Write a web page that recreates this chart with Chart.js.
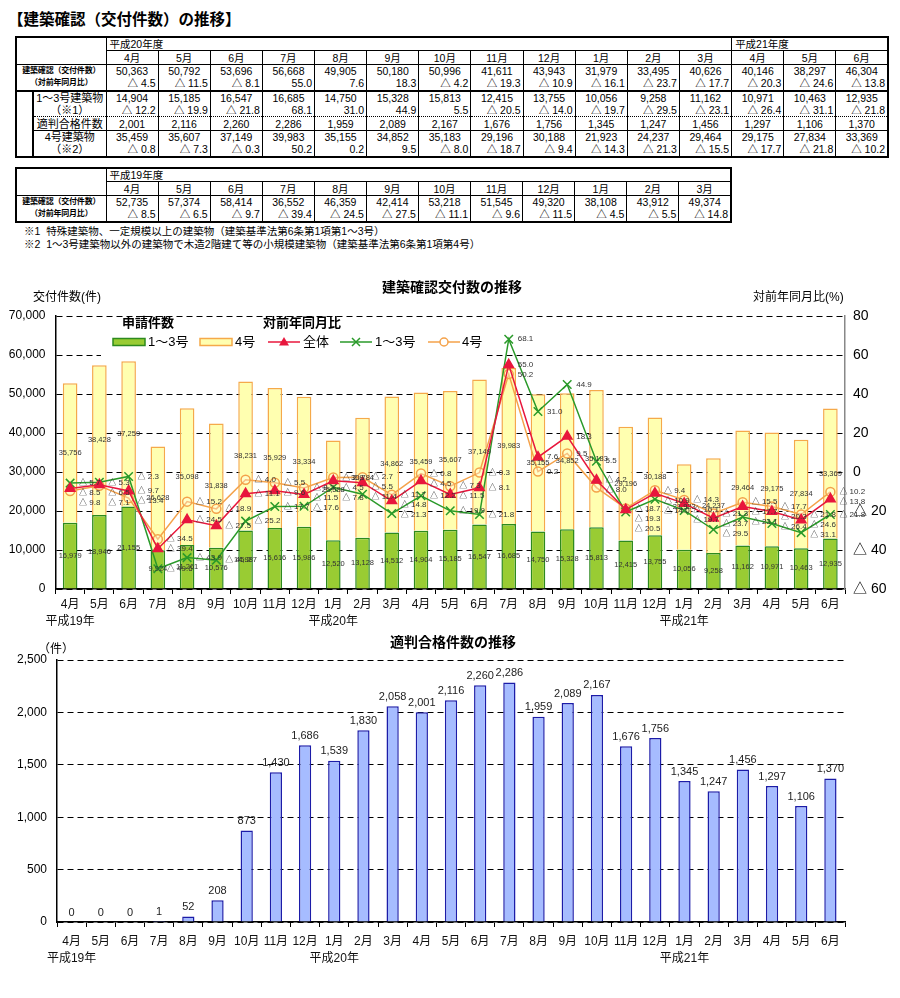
<!DOCTYPE html>
<html><head><meta charset="utf-8">
<script src="https://cdn.jsdelivr.net/npm/chart.js@4.4.0/dist/chart.umd.min.js"></script>
<style>
body{margin:0;background:#fff;font-family:"Liberation Sans","Noto Sans CJK JP",sans-serif;color:#000;}
#wrap{position:relative;width:900px;height:998px;overflow:hidden;background:#fff;}
.abs{position:absolute;white-space:nowrap;z-index:5;}
table{border-collapse:collapse;table-layout:fixed;position:absolute;font-size:10.5px;}
td{padding:0;height:12.4px;line-height:12px;border-left:1px solid #000;border-right:1px solid #000;border-top:none;border-bottom:none;text-align:center;overflow:hidden;white-space:nowrap;}
td.l{text-align:left;padding-left:3px;}
td.r{text-align:right;padding-right:2px;}
td.lab8{font-size:8px;font-weight:bold;letter-spacing:-0.2px;}
td.lab{font-size:11px;}
tr.b1 td{border-bottom:1px solid #000;}
tr.b2 td{border-bottom:2px solid #000;}
tr.bd td{border-bottom:1px dotted #000;}
td.nb{border-bottom:none !important;border-top:none !important;}
canvas{position:absolute;left:0;}
</style></head>
<body><div id="wrap">
<div class="abs" style="left:8px;top:7px;font-size:15.5px;font-weight:bold;">【建築確認（交付件数）の推移】</div>
<table id="t1" style="left:15px;top:36px;width:872px;border:2px solid #000;"></table>
<table id="t2" style="left:15px;top:167px;width:715px;border:2px solid #000;"></table>
<div class="abs" style="left:24px;top:223px;font-size:10.5px;">※1&nbsp;&nbsp;特殊建築物、一定規模以上の建築物（建築基準法第6条第1項第1～3号）</div>
<div class="abs" style="left:24px;top:236px;font-size:10.5px;">※2&nbsp;&nbsp;1～3号建築物以外の建築物で木造2階建て等の小規模建築物（建築基準法第6条第1項第4号）</div>

<div class="abs" style="left:0;width:904px;text-align:center;top:276px;font-size:14px;font-weight:bold;">建築確認交付数の推移</div>
<div class="abs" style="left:33px;top:287px;font-size:12px;">交付件数(件)</div>
<div class="abs" style="left:753px;top:287px;font-size:12px;">対前年同月比(%)</div>
<canvas id="c1" width="900" height="365" style="top:268px;"></canvas>

<div class="abs" style="left:0;width:906px;text-align:center;top:631px;font-size:14px;font-weight:bold;">適判合格件数の推移</div>
<div class="abs" style="left:38px;top:639px;font-size:12px;">（件）</div>
<canvas id="c2" width="900" height="336" style="top:632px;"></canvas>
</div>
<script>
// ---------- data ----------
const monthsH19 = ['4月','5月','6月','7月','8月','9月','10月','11月','12月','1月','2月','3月'];
const monthsH20 = ['4月','5月','6月','7月','8月','9月','10月','11月','12月','1月','2月','3月','4月','5月','6月'];
const yearMarks = {0:'平成19年', 9:'平成20年', 21:'平成21年'};

const h19Total    = [52735,57374,58414,36552,46359,42414,53218,51545,49320,38108,43912,49374];
const h19TotalYoy = [-8.5,-6.5,-9.7,-39.4,-24.5,-27.5,-11.1,-9.6,-11.5,-4.5,-5.5,-14.8];
const h19Cat13    = [16979,18946,21155,9924,11261,10576,14987,15616,15986,12520,13128,14512];
const h19Cat13Yoy = [-5.7,-5.3,-2.3,-49.6,-43.9,-45.2,-25.2,-17.7,-17.6,-7.8,-11.4,-21.3];
const h19Cat4     = [35756,38428,37259,26628,35098,31838,38231,35929,33334,25588,30784,34862];
const h19Cat4Yoy  = [-9.8,-7.1,-13.4,-34.5,-15.2,-18.9,-4.0,-5.5,-8.2,-2.8,-2.7,-11.7];
const h19Tekihan  = [0,0,0,1,52,208,873,1430,1686,1539,1830,2058];

const h20Total    = [50363,50792,53696,56668,49905,50180,50996,41611,43943,31979,33495,40626,40146,38297,46304];
const h20TotalYoy = [-4.5,-11.5,-8.1,55.0,7.6,18.3,-4.2,-19.3,-10.9,-16.1,-23.7,-17.7,-20.3,-24.6,-13.8];
const h20Cat13    = [14904,15185,16547,16685,14750,15328,15813,12415,13755,10056,9258,11162,10971,10463,12935];
const h20Cat13Yoy = [-12.2,-19.9,-21.8,68.1,31.0,44.9,5.5,-20.5,-14.0,-19.7,-29.5,-23.1,-26.4,-31.1,-21.8];
const h20Tekihan  = [2001,2116,2260,2286,1959,2089,2167,1676,1756,1345,1247,1456,1297,1106,1370];
const h20Cat4     = [35459,35607,37149,39983,35155,34852,35183,29196,30188,21923,24237,29464,29175,27834,33369];
const h20Cat4Yoy  = [-0.8,-7.3,-0.3,50.2,0.2,9.5,-8.0,-18.7,-9.4,-14.3,-21.3,-15.5,-17.7,-21.8,-10.2];

const yoyTicks = [-60,-40,-20,0,20,40,60,80];

// ---------- helpers ----------
const fmtN = v => v.toLocaleString('en-US');
const fmtR = v => v < 0 ? '△ ' + Math.abs(v).toFixed(1) : v.toFixed(1);

// ---------- tables ----------
function cells(arr, f, cls){ return arr.map(v => `<td${cls?` class="${cls}"`:''}>${f(v)}</td>`).join(''); }
const colsT1 = '<colgroup><col style="width:17px"><col style="width:73px">' + monthsH20.map(()=>'<col style="width:52.13px">').join('') + '</colgroup>';
document.getElementById('t1').innerHTML = colsT1 +
 `<tr class="b1"><td colspan="2" rowspan="2" style="border-bottom:1px solid #000"></td><td colspan="12" class="l">平成20年度</td><td colspan="3" class="l">平成21年度</td></tr>` +
 `<tr class="b1">${cells(monthsH20, v=>v)}</tr>` +
 `<tr><td colspan="2" class="lab8">建築確認（交付件数）</td>${cells(h20Total, fmtN)}</tr>` +
 `<tr class="b2"><td colspan="2" class="lab8">（対前年同月比）</td>${cells(h20TotalYoy, fmtR, 'r')}</tr>` +
 `<tr><td rowspan="5" class="nb" style="border-right:2px solid #000"></td><td class="lab">1～3号建築物</td>${cells(h20Cat13, fmtN)}</tr>` +
 `<tr class="bd"><td class="lab">（※1）</td>${cells(h20Cat13Yoy, fmtR, 'r')}</tr>` +
 `<tr class="b1"><td class="lab">適判合格件数</td>${cells(h20Tekihan, fmtN)}</tr>` +
 `<tr><td class="lab">4号建築物</td>${cells(h20Cat4, fmtN)}</tr>` +
 `<tr><td class="lab">（※2）</td>${cells(h20Cat4Yoy, fmtR, 'r')}</tr>`;

const colsT2 = '<colgroup><col style="width:90px">' + monthsH19.map(()=>'<col style="width:52.08px">').join('') + '</colgroup>';
document.getElementById('t2').innerHTML = colsT2 +
 `<tr class="b1"><td rowspan="2" style="border-bottom:1px solid #000"></td><td colspan="12" class="l">平成19年度</td></tr>` +
 `<tr class="b1">${cells(monthsH19, v=>v)}</tr>` +
 `<tr><td class="lab8">建築確認（交付件数）</td>${cells(h19Total, fmtN)}</tr>` +
 `<tr><td class="lab8">（対前年同月比）</td>${cells(h19TotalYoy, fmtR, 'r')}</tr>`;

// ---------- chart data ----------
const chartMonths = monthsH19.concat(monthsH20);
const xLabels = chartMonths.map((m,i) => yearMarks[i] ? [m, yearMarks[i]] : m);
const cat13 = h19Cat13.concat(h20Cat13);
const cat4 = h19Cat4.concat(h20Cat4);
const totalYoy = h19TotalYoy.concat(h20TotalYoy);
const cat13Yoy = h19Cat13Yoy.concat(h20Cat13Yoy);
const cat4Yoy = h19Cat4Yoy.concat(h20Cat4Yoy);
const tekihan = h19Tekihan.concat(h20Tekihan);

Chart.defaults.font.family = '"Liberation Sans","Noto Sans CJK JP",sans-serif';
Chart.defaults.color = '#000';

const C_RED='#e8173d', C_GRN='#2a9a2a', C_ORG='#f4a24a';
const BAR_G='#99cc33', BAR_GB='#2d8a1e', BAR_Y='#ffffb0', BAR_YB='#f5a94a';

const plugin1 = {
  id:'p1',
  beforeDatasetsDraw(chart){
    const ctx = chart.ctx;
    ctx.save();
    ctx.fillStyle = '#fff';
    ctx.fillRect(101, 50, 386, 40);
    ctx.fillStyle = '#000';
    ctx.font = 'bold 13px "Liberation Sans","Noto Sans CJK JP",sans-serif';
    ctx.textAlign = 'center'; ctx.textBaseline = 'middle';
    ctx.fillText('申請件数', 148, 55);
    ctx.fillText('対前年同月比', 302, 55);
    ctx.font = '13px "Liberation Sans","Noto Sans CJK JP",sans-serif';
    ctx.textAlign = 'left';
    const ry = 74;
    ctx.lineWidth = 1.5;
    ctx.fillStyle = BAR_G; ctx.strokeStyle = BAR_GB;
    ctx.fillRect(113, ry-3.5, 32, 7); ctx.strokeRect(113, ry-3.5, 32, 7);
    ctx.fillStyle = BAR_Y; ctx.strokeStyle = BAR_YB;
    ctx.fillRect(200, ry-3.5, 32, 7); ctx.strokeRect(200, ry-3.5, 32, 7);
    ctx.fillStyle = '#000';
    ctx.fillText('1～3号', 148, ry); ctx.fillText('4号', 235, ry);
    ctx.fillText('全体', 303, ry); ctx.fillText('1～3号', 375, ry); ctx.fillText('4号', 462, ry);
    ctx.strokeStyle = C_RED; ctx.beginPath(); ctx.moveTo(268, ry); ctx.lineTo(300, ry); ctx.stroke();
    ctx.fillStyle = C_RED; ctx.beginPath(); ctx.moveTo(284, ry-5); ctx.lineTo(289, ry+3.5); ctx.lineTo(279, ry+3.5); ctx.closePath(); ctx.fill();
    ctx.strokeStyle = C_GRN; ctx.beginPath(); ctx.moveTo(340, ry); ctx.lineTo(372, ry); ctx.stroke();
    ctx.beginPath(); ctx.moveTo(352, ry-4); ctx.lineTo(360, ry+4); ctx.moveTo(360, ry-4); ctx.lineTo(352, ry+4); ctx.stroke();
    ctx.strokeStyle = C_ORG; ctx.beginPath(); ctx.moveTo(428, ry); ctx.lineTo(460, ry); ctx.stroke();
    ctx.fillStyle = '#fff'; ctx.beginPath(); ctx.arc(444, ry, 4, 0, Math.PI*2); ctx.fill(); ctx.stroke();
    ctx.restore();
  },
  afterDatasetsDraw(chart){
    const ctx = chart.ctx;
    ctx.save();
    ctx.fillStyle = '#333';
    ctx.textAlign = 'center'; ctx.textBaseline = 'middle';
    ctx.font = '7.5px "Liberation Sans",sans-serif';
    [3,4].forEach(di => {
      const meta = chart.getDatasetMeta(di);
      meta.data.forEach((el, i) => {
        const v = chart.data.datasets[di].data[i];
        ctx.fillText(fmtN(v), el.x, (el.y + el.base)/2);
      });
    });
    ctx.font = '8px "Liberation Sans","Noto Sans CJK JP",sans-serif';
    ctx.textAlign = 'left';
    const n = chart.data.labels.length;
    for (let i = 0; i < n; i++) {
      const items = [0,1,2].map(di => {
        const el = chart.getDatasetMeta(di).data[i];
        return {x: el.x, y: el.y, t: fmtR(chart.data.datasets[di].data[i])};
      }).sort((a,b) => a.y - b.y);
      for (let k = 1; k < items.length; k++) {
        if (items[k].y < items[k-1].y + 10) items[k].y = items[k-1].y + 10;
      }
      items.forEach(it => ctx.fillText(it.t, it.x + 9, it.y));
    }
    ctx.restore();
  }
};

new Chart(document.getElementById('c1'), {
  type:'bar',
  data:{ labels:xLabels, datasets:[
    {type:'line', label:'全体', data:totalYoy, yAxisID:'y1', borderColor:C_RED, backgroundColor:C_RED, borderWidth:1.5,
      pointStyle:'triangle', pointRadius:5.5, pointBackgroundColor:C_RED, pointBorderColor:C_RED, order:1},
    {type:'line', label:'1～3号', data:cat13Yoy, yAxisID:'y1', borderColor:C_GRN, backgroundColor:C_GRN, borderWidth:1.5,
      pointStyle:'crossRot', pointRadius:6, pointBorderWidth:1.5, pointBorderColor:C_GRN, order:2},
    {type:'line', label:'4号', data:cat4Yoy, yAxisID:'y1', borderColor:C_ORG, backgroundColor:'rgba(0,0,0,0)', borderWidth:1.5,
      pointStyle:'circle', pointRadius:4.5, pointBorderWidth:1.5, pointBorderColor:C_ORG, pointBackgroundColor:'rgba(255,255,255,0.3)', order:3},
    {type:'bar', label:'1～3号', data:cat13, yAxisID:'y', stack:'s', backgroundColor:BAR_G, borderColor:BAR_GB, borderWidth:1.5,
      barPercentage:0.5, categoryPercentage:1, order:4},
    {type:'bar', label:'4号', data:cat4, yAxisID:'y', stack:'s', backgroundColor:BAR_Y, borderColor:BAR_YB, borderWidth:1.5,
      barPercentage:0.5, categoryPercentage:1, order:5}
  ]},
  options:{
    responsive:false, animation:false, devicePixelRatio:1,
    layout:{padding:{top:48,left:0,right:0,bottom:0}},
    plugins:{legend:{display:false}, tooltip:{enabled:false}},
    scales:{
      x:{stacked:true, afterFit(s){s.height=44;},
        grid:{drawOnChartArea:false, drawTicks:true, tickLength:5, color:'#000', offset:true},
        border:{color:'#000', width:1.5},
        ticks:{autoSkip:false, maxRotation:0, minRotation:0, padding:3, color:'#111', font:{size:12, lineHeight:1.35}}},
      y:{stacked:true, position:'left', min:0, max:70000, afterFit(s){s.width=55.5;},
        grid:{color:'#000', lineWidth:1, drawTicks:false},
        border:{color:'#000', width:1.5, dash:[6,4]},
        ticks:{stepSize:10000, padding:10, font:{size:12}, callback:v=>fmtN(v)}},
      y1:{position:'right', min:-60, max:80, afterFit(s){s.width=55;},
        grid:{drawOnChartArea:false, drawTicks:false},
        border:{color:'#888', width:1.5},
        afterBuildTicks(s){ s.ticks = yoyTicks.map(v=>({value:v})); },
        ticks:{padding:8, font:{size:14}, callback:v=> v<0 ? '△ '+(-v) : String(v)}}
    }
  },
  plugins:[plugin1]
});

const plugin2 = {
  id:'p2',
  afterDatasetsDraw(chart){
    const ctx = chart.ctx;
    ctx.save();
    ctx.fillStyle = '#222';
    ctx.font = '11px "Liberation Sans",sans-serif';
    ctx.textAlign = 'center'; ctx.textBaseline = 'bottom';
    chart.getDatasetMeta(0).data.forEach((el,i) => {
      ctx.fillText(fmtN(chart.data.datasets[0].data[i]), el.x, el.y - 4);
    });
    ctx.restore();
  }
};

new Chart(document.getElementById('c2'), {
  type:'bar',
  data:{ labels:xLabels, datasets:[
    {label:'適判合格件数', data:tekihan, backgroundColor:'#a6bcff', borderColor:'#1c1ca8', borderWidth:1.5,
      barPercentage:0.42, categoryPercentage:1}
  ]},
  options:{
    responsive:false, animation:false, devicePixelRatio:1,
    layout:{padding:{top:28,left:0,right:55,bottom:0}},
    plugins:{legend:{display:false}, tooltip:{enabled:false}},
    scales:{
      x:{afterFit(s){s.height=46;},
        grid:{drawOnChartArea:false, drawTicks:true, tickLength:5, color:'#000', offset:true},
        border:{color:'#000', width:1.5},
        ticks:{autoSkip:false, maxRotation:0, minRotation:0, padding:7, color:'#111', font:{size:12, lineHeight:1.35}}},
      y:{min:0, max:2500, afterFit(s){s.width=57;},
        grid:{color:'#000', lineWidth:1, drawTicks:false},
        border:{color:'#000', width:1.5, dash:[6,4]},
        ticks:{stepSize:500, padding:10, font:{size:12}, callback:v=>fmtN(v)}}
    }
  },
  plugins:[plugin2]
});
</script>
</body></html>
